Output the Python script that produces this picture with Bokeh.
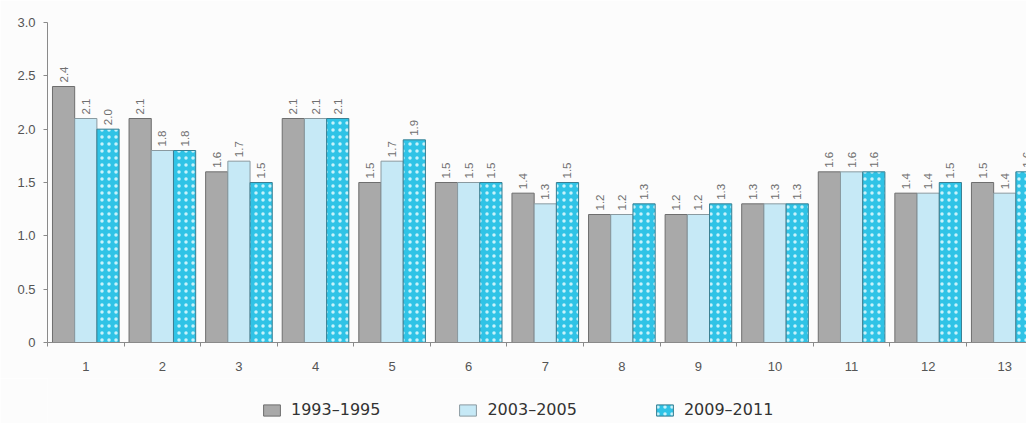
from bokeh.plotting import figure
from bokeh.layouts import column
from bokeh.models import ColumnDataSource, FixedTicker, Legend, LegendItem
from bokeh.transform import dodge
from bokeh.core.properties import value
from bokeh.embed import file_html
from bokeh.resources import INLINE
import math

categories = list(range(1, 14))
series_names = ["1993–1995", "2003–2005", "2009–2011"]
s1 = [2.4, 2.1, 1.6, 2.1, 1.5, 1.5, 1.4, 1.2, 1.2, 1.3, 1.6, 1.4, 1.5]
s2 = [2.1, 1.8, 1.7, 2.1, 1.7, 1.5, 1.3, 1.2, 1.2, 1.3, 1.6, 1.4, 1.4]
s3 = [2.0, 1.8, 1.5, 2.1, 1.9, 1.5, 1.5, 1.3, 1.3, 1.3, 1.6, 1.5, 1.6]
y_ticks = [0, 0.5, 1.0, 1.5, 2.0, 2.5, 3.0]
y_tick_labels = ["0", "0.5", "1.0", "1.5", "2.0", "2.5", "3.0"]

FONT = "Liberation Sans"
BG = "#fcfcfc"
src = ColumnDataSource(dict(
    cat=categories, s1=s1, s2=s2, s3=s3,
    t1=[f"{v:.1f}" for v in s1], t2=[f"{v:.1f}" for v in s2], t3=[f"{v:.1f}" for v in s3],
))

p = figure(frame_width=979, frame_height=320, x_range=(0.5, 13.284), y_range=(0, 3.0),
           output_backend="svg", toolbar_location=None,
           min_border_top=22, min_border_right=0, min_border_left=47, min_border_bottom=36)
p.outline_line_color = None
p.xgrid.visible = False
p.ygrid.visible = False
p.background_fill_color = BG
p.border_fill_color = BG

bw = 0.29
styles = [
    dict(fill_color="#a9a9a9", line_color="#6e6e6e"),
    dict(fill_color="#c6e9f6", line_color="#8a9aa0"),
    dict(fill_color="#2fc3e6", line_color="#3a7f92", hatch_pattern="dot",
         hatch_color="#c8f2fb", hatch_scale=7, hatch_weight=1.2),
]
offs = [-bw, 0, bw]
for k, (col, tcol) in enumerate([("s1", "t1"), ("s2", "t2"), ("s3", "t3")]):
    p.vbar(x=dodge("cat", offs[k], range=p.x_range), top=col, width=bw, source=src,
           line_width=1, **styles[k])
    p.text(x=dodge("cat", offs[k], range=p.x_range), y=col, text=tcol, source=src,
           angle=math.pi / 2, text_align="left", text_baseline="middle", y_offset=-4,
           text_font=value(FONT), text_font_size="11.5px", text_color="#6f6f6f")

p.xaxis.ticker = FixedTicker(ticks=categories, minor_ticks=[c + 0.5 for c in [0] + categories])
p.xaxis.major_tick_line_color = None
p.xaxis.major_tick_out = 4
p.xaxis.minor_tick_out = 4
p.xaxis.minor_tick_in = 0
p.xaxis.minor_tick_line_color = "#8a8a8a"
p.xaxis.axis_line_color = "#8a8a8a"
p.xaxis.major_label_standoff = 15
p.xaxis.major_label_text_font = FONT
p.xaxis.major_label_text_font_size = "13px"
p.xaxis.major_label_text_color = "#555555"

p.yaxis.ticker = FixedTicker(ticks=y_ticks)
p.yaxis.major_label_overrides = {t: l for t, l in zip(y_ticks, y_tick_labels)}
p.yaxis.minor_tick_line_color = None
p.yaxis.major_tick_out = 4
p.yaxis.major_tick_in = 0
p.yaxis.major_tick_line_color = "#8a8a8a"
p.yaxis.axis_line_color = "#8a8a8a"
p.yaxis.major_label_standoff = 8
p.yaxis.major_label_text_font = FONT
p.yaxis.major_label_text_font_size = "13px"
p.yaxis.major_label_text_color = "#555555"

# legend strip below the chart (swatch renderers sit outside the visible range)
lg = figure(width=1026, height=45, x_range=(0, 1), y_range=(5, 6),
            output_backend="svg", toolbar_location=None,
            x_axis_location=None, y_axis_location=None,
            min_border=0)
lg.outline_line_color = None
lg.xgrid.visible = False
lg.ygrid.visible = False
lg.background_fill_color = BG
lg.border_fill_color = BG
swatch_src = ColumnDataSource(dict(x=[0.5], top=[0.0]))
swatches = [lg.vbar(x="x", top="top", width=0.1, line_width=1, source=swatch_src, **styles[k])
            for k in range(3)]

legend = Legend(items=[LegendItem(label=n, renderers=[r]) for n, r in zip(series_names, swatches)],
                orientation="horizontal", location=(214, 4))
legend.glyph_width = 21
legend.glyph_height = 14
legend.label_standoff = 9
legend.spacing = 77
legend.padding = 0
legend.margin = 0
legend.border_line_color = None
legend.background_fill_alpha = 0
legend.label_text_font = "DejaVu Sans"
legend.label_text_font_size = "16px"
legend.label_text_color = "#333333"
lg.add_layout(legend, "center")

page = column(p, lg, spacing=0)
open("out.html", "w").write(file_html(page, INLINE))
